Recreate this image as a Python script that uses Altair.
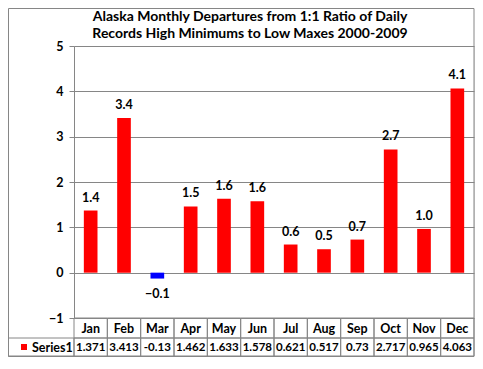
import altair as alt
import pandas as pd

months = ["Jan", "Feb", "Mar", "Apr", "May", "Jun", "Jul", "Aug", "Sep", "Oct", "Nov", "Dec"]
values = [1.371, 3.413, -0.13, 1.462, 1.633, 1.578, 0.621, 0.517, 0.73, 2.717, 0.965, 4.063]
table_labels = ["1.371", "3.413", "-0.13", "1.462", "1.633", "1.578", "0.621", "0.517", "0.73", "2.717", "0.965", "4.063"]
series_name = "Series1"
y_ticks = [-1, 0, 1, 2, 3, 4, 5]
title_lines = ["Alaska Monthly Departures from 1:1 Ratio of Daily",
               "Records High Minimums to Low Maxes 2000-2009"]

df = pd.DataFrame({"month": months, "value": values, "label": table_labels})

W, H = 400, 272
FONT = "Lato"
GRID = "#868686"
ROW1 = 20   # header row height
ROW2 = 18   # value row height

x_enc = alt.X("month:N", sort=months,
              scale=alt.Scale(paddingInner=0, paddingOuter=0), axis=None)
y_enc = alt.Y("value:Q", scale=alt.Scale(domain=[-1, 5], nice=False),
              axis=alt.Axis(values=y_ticks, format="d", title=None,
                            labelFont=FONT, labelFontSize=12.5, labelFontWeight="bold",
                            labelColor="black", labelPadding=6,
                            tickColor=GRID, tickSize=5,
                            domainColor=GRID, gridColor=GRID, grid=True))

base = alt.Chart(df)

bars = base.mark_bar(width={"band": 0.41}).encode(
    x=x_enc, y=y_enc, y2=alt.datum(0),
    color=alt.condition("datum.value < 0", alt.value("#0000FF"), alt.value("#FF0000")),
)

lab_pos = base.transform_filter("datum.value >= 0").mark_text(
    font=FONT, fontSize=12.5, fontWeight="bold", baseline="middle", dy=-13, color="black"
).encode(x=x_enc, y=alt.Y("value:Q"), text=alt.Text("value:Q", format=".1f"))

lab_neg = base.transform_filter("datum.value < 0").mark_text(
    font=FONT, fontSize=12.5, fontWeight="bold", baseline="middle", dy=15, color="black"
).encode(x=x_enc, y=alt.Y("value:Q"), text=alt.Text("value:Q", format=".1f"))

# data table below the plot
cells_top = base.mark_rect(filled=False, stroke=GRID, strokeWidth=1).encode(
    x=x_enc, y=alt.value(H), y2=alt.value(H + ROW1))
cells_bot = base.mark_rect(filled=False, stroke=GRID, strokeWidth=1).encode(
    x=x_enc, y=alt.value(H + ROW1), y2=alt.value(H + ROW1 + ROW2))

month_text = base.mark_text(font=FONT, fontSize=12.5, fontWeight="bold",
                            baseline="middle", color="black").encode(
    x=x_enc, y=alt.value(H + ROW1 / 2 + 0.5), text="month:N")
value_text = base.mark_text(font=FONT, fontSize=11.5, fontWeight="bold",
                            baseline="middle", color="black").encode(
    x=x_enc, y=alt.value(H + ROW1 + ROW2 / 2 + 0.5), text="label:N")

one = alt.Chart(pd.DataFrame({"name": [series_name]}))
label_cell = one.mark_rect(filled=False, stroke=GRID, strokeWidth=1).encode(
    x=alt.value(-66), x2=alt.value(0), y=alt.value(H + ROW1), y2=alt.value(H + ROW1 + ROW2))
legend_sq = one.mark_rect(color="#FF0000").encode(
    x=alt.value(-53), x2=alt.value(-47), y=alt.value(H + ROW1 + 6), y2=alt.value(H + ROW1 + 12))
legend_txt = one.mark_text(font=FONT, fontSize=12.5, fontWeight="bold", align="left",
                           baseline="middle", color="black").encode(
    x=alt.value(-42), y=alt.value(H + ROW1 + ROW2 / 2 + 0.5), text="name:N")
outer = one.mark_rect(filled=False, stroke=GRID, strokeWidth=1).encode(
    x=alt.value(-65.5), x2=alt.value(W), y=alt.value(-37.5), y2=alt.value(H + ROW1 + ROW2 + 0.5))

tdf = pd.DataFrame({"t": title_lines, "row": [0, 1]})
title_a = alt.Chart(tdf).transform_filter("datum.row == 0").mark_text(
    font=FONT, fontSize=14, fontWeight="bold", color="black", baseline="alphabetic"
).encode(x=alt.value(176), y=alt.value(-25), text="t:N")
title_b = alt.Chart(tdf).transform_filter("datum.row == 1").mark_text(
    font=FONT, fontSize=14, fontWeight="bold", color="black", baseline="alphabetic"
).encode(x=alt.value(176), y=alt.value(-8), text="t:N")

chart = alt.layer(
    bars, lab_pos, lab_neg, cells_top, cells_bot, month_text, value_text,
    label_cell, legend_sq, legend_txt, outer, title_a, title_b
).properties(
    width=W, height=H,
    autosize=alt.AutoSizeParams(type="none"),
    padding={"left": 66, "top": 38, "right": 1, "bottom": 39},
).configure_view(stroke=GRID, strokeWidth=1).configure(background="white")

chart.save("out.html", embed_options={"renderer": "svg", "actions": False})
